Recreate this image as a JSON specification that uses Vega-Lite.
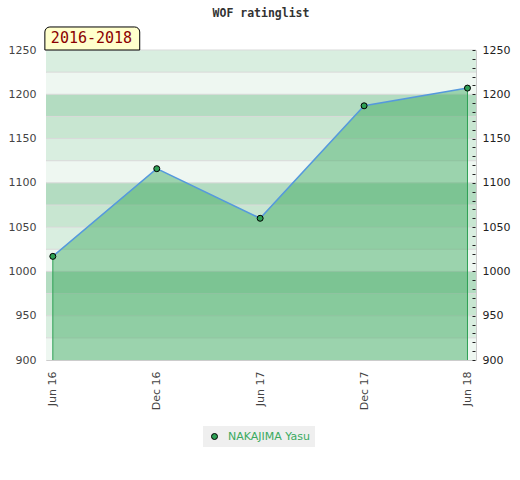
{
  "$schema": "https://vega.github.io/schema/vega-lite/v6.json",
  "autosize": "none",
  "width": 430,
  "height": 310,
  "padding": {"left": 46, "top": 50, "right": 44, "bottom": 120},
  "title": {
    "text": "WOF ratinglist",
    "font": "DejaVu Sans Mono",
    "fontSize": 11.5,
    "fontWeight": "bold",
    "color": "#333333",
    "anchor": "middle",
    "frame": "group",
    "offset": 7
  },
  "config": {
    "view": {"stroke": "#cccccc"},
    "axis": {"labelFont": "DejaVu Sans", "labelFontSize": 11, "labelColor": "#444444", "title": null}
  },
  "datasets": {
    "ratings": [
      {"date": "2016-06-01", "rating": 1017, "player": "NAKAJIMA Yasu"},
      {"date": "2016-12-01", "rating": 1116, "player": "NAKAJIMA Yasu"},
      {"date": "2017-06-01", "rating": 1060, "player": "NAKAJIMA Yasu"},
      {"date": "2017-12-01", "rating": 1187, "player": "NAKAJIMA Yasu"},
      {"date": "2018-06-01", "rating": 1207, "player": "NAKAJIMA Yasu"}
    ],
    "bands": [
      {"lo": 1225, "hi": 1250, "shade": "light"},
      {"lo": 1200, "hi": 1225, "shade": "pale"},
      {"lo": 1175, "hi": 1200, "shade": "dark"},
      {"lo": 1150, "hi": 1175, "shade": "medium"},
      {"lo": 1125, "hi": 1150, "shade": "light"},
      {"lo": 1100, "hi": 1125, "shade": "pale"},
      {"lo": 1075, "hi": 1100, "shade": "dark"},
      {"lo": 1050, "hi": 1075, "shade": "medium"},
      {"lo": 1025, "hi": 1050, "shade": "light"},
      {"lo": 1000, "hi": 1025, "shade": "pale"},
      {"lo": 975, "hi": 1000, "shade": "dark"},
      {"lo": 950, "hi": 975, "shade": "medium"},
      {"lo": 925, "hi": 950, "shade": "light"},
      {"lo": 900, "hi": 925, "shade": "pale"}
    ]
  },
  "layer": [
    {
      "data": {"name": "bands"},
      "mark": {"type": "rect"},
      "encoding": {
        "y": {
          "field": "lo", "type": "quantitative",
          "scale": {"domain": [900, 1250], "nice": false, "zero": false},
          "axis": {
            "orient": "left",
            "values": [900, 950, 1000, 1050, 1100, 1150, 1200, 1250],
            "format": "d",
            "ticks": false, "domain": false, "grid": false, "labelPadding": 10
          }
        },
        "y2": {"field": "hi"},
        "fill": {
          "field": "shade", "type": "nominal", "legend": null,
          "scale": {"domain": ["dark", "medium", "light", "pale"], "range": ["#b3dcc1", "#c8e6d1", "#d9eee0", "#eef7f1"]}
        }
      }
    },
    {
      "data": {"name": "bands"},
      "mark": {"type": "rule", "color": "#d9d9d9", "strokeWidth": 1},
      "encoding": {
        "y": {"field": "hi", "type": "quantitative", "axis": null}
      }
    },
    {
      "data": {"name": "ratings"},
      "mark": {"type": "area", "color": "#3dab5f", "opacity": 0.47},
      "encoding": {
        "x": {
          "field": "date", "type": "temporal",
          "scale": {"type": "utc", "domain": [{"year": 2016, "month": 5, "date": 20, "utc": true}, {"year": 2018, "month": 6, "date": 16, "utc": true}]},
          "axis": {
            "values": [
              {"year": 2016, "month": 6, "date": 1, "utc": true},
              {"year": 2016, "month": 12, "date": 1, "utc": true},
              {"year": 2017, "month": 6, "date": 1, "utc": true},
              {"year": 2017, "month": 12, "date": 1, "utc": true},
              {"year": 2018, "month": 6, "date": 1, "utc": true}
            ],
            "format": "%b %y", "labelAngle": 270, "ticks": false, "domain": false, "grid": false, "labelPadding": 11
          }
        },
        "y": {"field": "rating", "type": "quantitative", "axis": null},
        "y2": {"datum": 900}
      }
    },
    {
      "data": {"name": "ratings"},
      "transform": [{"filter": "utcmonth(datum.date) == 5 && utcyear(datum.date) != 2017"}],
      "mark": {"type": "rule", "color": "#2ea055", "strokeWidth": 1},
      "encoding": {
        "x": {"field": "date", "type": "temporal"},
        "y": {"field": "rating", "type": "quantitative", "axis": null},
        "y2": {"datum": 900}
      }
    },
    {
      "data": {"name": "ratings"},
      "mark": {"type": "line", "color": "#5599dd", "strokeWidth": 1.5},
      "encoding": {
        "x": {"field": "date", "type": "temporal"},
        "y": {"field": "rating", "type": "quantitative", "axis": null}
      }
    },
    {
      "data": {"name": "ratings"},
      "mark": {"type": "point", "filled": true, "size": 36, "stroke": "#000000", "strokeWidth": 1, "opacity": 1},
      "encoding": {
        "x": {"field": "date", "type": "temporal"},
        "y": {
          "field": "rating", "type": "quantitative",
          "scale": {"domain": [900, 1250], "nice": false, "zero": false},
          "axis": {
            "orient": "right",
            "zindex": 1,
            "values": [900, 910, 920, 930, 940, 950, 960, 970, 980, 990, 1000, 1010, 1020, 1030, 1040, 1050, 1060, 1070, 1080, 1090, 1100, 1110, 1120, 1130, 1140, 1150, 1160, 1170, 1180, 1190, 1200, 1210, 1220, 1230, 1240, 1250],
            "format": "d",
            "labelOverlap": false,
            "labelOpacity": {"condition": {"test": "datum.value % 50 === 0", "value": 1}, "value": 0},
            "ticks": true, "tickSize": 3, "tickColor": "#222222", "domain": false, "grid": false,
            "offset": -4, "labelPadding": 7, "labelColor": "#222222"
          }
        },
        "color": {
          "field": "player", "type": "nominal",
          "scale": {"range": ["#2ea055"]},
          "legend": {
            "orient": "none", "legendX": 157, "legendY": 376, "title": null,
            "fillColor": "#efefef", "padding": 5, "symbolOffset": 1, "labelOffset": 8,
            "symbolStrokeColor": "#000000", "symbolStrokeWidth": 1, "symbolSize": 36,
            "labelFont": "DejaVu Sans", "labelFontSize": 11, "labelColor": "#3aaa60"
          }
        }
      }
    },
    {
      "data": {"values": [{"period": "2016-2018"}]},
      "mark": {"type": "rect", "fill": "#ffffcc", "stroke": "#000000", "strokeWidth": 1, "cornerRadiusTopLeft": 5, "cornerRadiusTopRight": 5},
      "encoding": {
        "x": {"datum": {"year": 2016, "month": 5, "date": 18, "utc": true}, "type": "temporal"},
        "x2": {"datum": {"year": 2016, "month": 11, "date": 1, "utc": true}},
        "y": {"datum": 1250, "type": "quantitative", "axis": null},
        "y2": {"datum": 1276}
      }
    },
    {
      "data": {"values": [{"period": "2016-2018"}]},
      "mark": {"type": "text", "align": "left", "baseline": "middle", "dx": 6, "dy": -12, "font": "DejaVu Sans Mono", "fontSize": 15, "color": "#8b0000"},
      "encoding": {
        "x": {"datum": {"year": 2016, "month": 5, "date": 18, "utc": true}, "type": "temporal"},
        "y": {"datum": 1250, "type": "quantitative", "axis": null},
        "text": {"field": "period"}
      }
    }
  ],
  "resolve": {"axis": {"y": "independent"}}
}
